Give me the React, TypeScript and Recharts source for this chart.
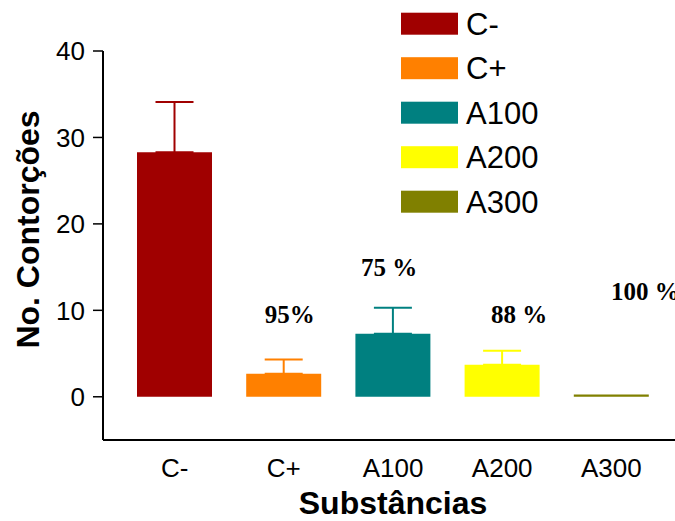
import React from 'react';
import { ComposedChart, Bar, ErrorBar, XAxis, YAxis, Scatter, Legend, Label } from 'recharts';

// ---- data ----
const categories = ['C-', 'C+', 'A100', 'A200', 'A300'];
const means = [28.3, 2.66, 7.3, 3.7, 0.25];
const errors = [5.8, 1.65, 3.0, 1.62, 0];
const inhibitionLabels = ['', '95%', '75 %', '88 %', '100 %'];
const labelHeights: (number | null)[] = [null, 8.5, 14.0, 8.5, 11.2];
const yTicks = [0, 10, 20, 30, 40];
const yDomain: [number, number] = [-5, 40];

// ---- styles ----
const colors = ['#a00000', '#ff8000', '#008080', '#ffff00', '#808000'];
const labelDx = [0, 6, -4, 17, 34];
const SANS = "'Liberation Sans', Arial, sans-serif";
const SERIF = "'Liberation Serif', 'Times New Roman', serif";

const data = categories.map((cat, i) => {
  const row: any = { cat, lab: labelHeights[i], labText: inhibitionLabels[i], idx: i };
  row[`v${i}`] = means[i];
  row[`e${i}`] = errors[i] > 0 ? [0, errors[i]] : null;
  return row;
});

const LabelShape = (props: any) => {
  const { cx, cy, payload } = props;
  if (cy == null || Number.isNaN(cy) || !payload || !payload.labText) return <g />;
  return (
    <text
      x={cx + labelDx[payload.idx]}
      y={cy}
      textAnchor="middle"
      fontFamily={SERIF}
      fontWeight="bold"
      fontSize={25}
      fill="#000"
    >
      {payload.labText}
    </text>
  );
};

const renderLegend = (props: any) => {
  const payload = (props.payload || [])
    .filter((p: any) => p.type !== 'none' && categories.includes(p.value))
    .sort((a: any, b: any) => categories.indexOf(a.value) - categories.indexOf(b.value));
  return (
    <svg width={675} height={230} style={{ display: 'block' }}>
      {payload.map((p: any, i: number) => {
        const top = 12.7 + 44.5 * i;
        return (
          <g key={i}>
            <rect x={401} y={top} width={57} height={22} fill={p.color} />
            <text x={466} y={top + 22} fontFamily={SANS} fontSize={31} fill="#000">
              {p.value}
            </text>
          </g>
        );
      })}
    </svg>
  );
};

export default function App() {
  return (
    <div style={{ position: 'absolute', left: 0, top: 0, width: 675, height: 521, background: '#fff' }}>
      <ComposedChart
        width={675}
        height={521}
        data={data}
        margin={{ top: 51, right: 0, bottom: 0, left: 0 }}
      >
        <XAxis
          dataKey="cat"
          type="category"
          height={81}
          padding={{ left: 17, right: 9 }}
          axisLine={{ stroke: '#000', strokeWidth: 2 }}
          tickLine={false}
          tickSize={10}
          tickMargin={9}
          tick={{ fill: '#000', fontSize: 26, fontFamily: SANS }}
        >
          <Label
            value="Substâncias"
            position="insideBottom"
            offset={7}
            dx={4}
            style={{ fontFamily: SANS, fontWeight: 'bold', fontSize: 32, fill: '#000' }}
          />
        </XAxis>
        <YAxis
          type="number"
          domain={yDomain}
          ticks={yTicks}
          width={103}
          allowDataOverflow
          axisLine={{ stroke: '#000', strokeWidth: 2 }}
          tickLine={{ stroke: '#000', strokeWidth: 1.5 }}
          tickSize={10}
          tickMargin={8}
          tick={{ fill: '#000', fontSize: 26, fontFamily: SANS }}
        >
          <Label
            value="No. Contorções"
            angle={-90}
            position="center"
            dx={-24}
            dy={-16}
            style={{ fontFamily: SANS, fontWeight: 'bold', fontSize: 32, fill: '#000' }}
          />
        </YAxis>
        {categories.map((c, i) => (
          <Bar
            key={c}
            dataKey={`v${i}`}
            name={c}
            stackId="s"
            fill={colors[i]}
            barSize={75}
            isAnimationActive={false}
          >
            <ErrorBar dataKey={`e${i}`} width={19} stroke={colors[i]} strokeWidth={2} />
          </Bar>
        ))}
        <Scatter
          dataKey="lab"
          legendType="none"
          shape={LabelShape}
          isAnimationActive={false}
        />
        <Legend
          layout="vertical"
          align="center"
          verticalAlign="middle"
          content={renderLegend}
          wrapperStyle={{ left: 0, top: 0, width: 675, height: 230 }}
        />
      </ComposedChart>
    </div>
  );
}
